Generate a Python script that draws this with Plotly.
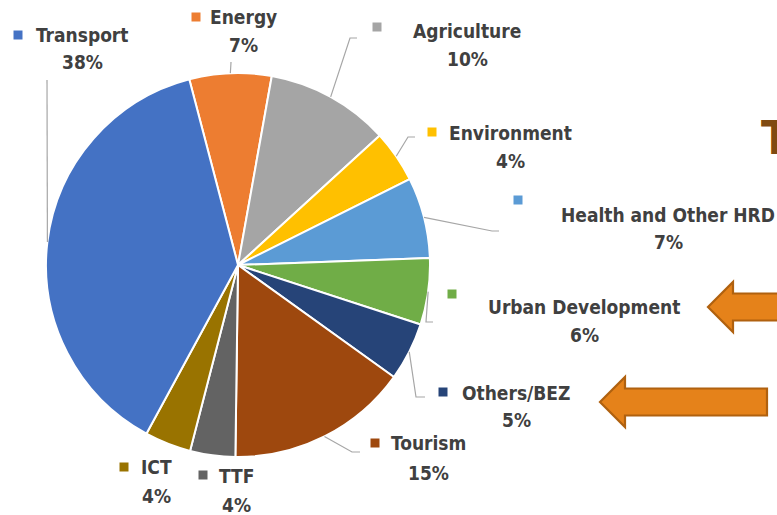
import math
import plotly.graph_objects as go

# ---- data ----
categories = ["Energy", "Agriculture", "Environment", "Health and Other HRD",
              "Urban Development", "Others/BEZ", "Tourism", "TTF", "ICT", "Transport"]
shares = [6.9, 10.4, 4.4, 6.8, 5.6, 4.9, 15.3, 3.8, 3.9, 38.0]
colors = ["#ED7D31", "#A5A5A5", "#FFC000", "#5B9BD5", "#70AD47",
          "#264478", "#9E480E", "#636363", "#997300", "#4472C4"]

W, H = 777, 515
CX, CY, R = 238, 265, 192
ROT = -14.7
FONT = "Liberation Sans Narrow, Arial Narrow, DejaVu Sans Condensed, sans-serif"
TXT = "#404040"

def px(x):
    return x / W

def py(y):
    return 1 - y / H

fig = go.Figure(go.Pie(
    labels=categories, values=shares, sort=False, direction="clockwise",
    rotation=ROT, marker=dict(colors=colors, line=dict(color="white", width=2)),
    textinfo="none", hoverinfo="label+percent", showlegend=False,
    domain=dict(x=[px(CX - R), px(CX + R)], y=[py(CY + R), py(CY - R)]),
))

# label layout: (name center x, name y, marker x, marker y, pct center x, pct y) in pixels
label_pos = {
    "Transport": (82, 35, 18, 35, 82, 62),
    "Energy": (243, 17, 196, 17, 243, 45),
    "Agriculture": (467, 31, 377, 27, 467, 59),
    "Environment": (510, 133, 432, 132, 510, 161),
    "Health and Other HRD": (668, 215, 518, 200, 668, 242),
    "Urban Development": (584, 307, 452, 294, 584, 335),
    "Others/BEZ": (516, 393, 443, 392, 516, 420),
    "Tourism": (428, 443, 375, 443, 428, 473),
    "ICT": (156, 467, 124, 467, 156, 496),
    "TTF": (236, 476, 203, 475, 236, 505),
}
# leader line elbows (pixels): list of points after the slice edge point
leaders = {
    "Transport": [(47, 80)],
    "Energy": [(231, 62)],
    "Agriculture": [(350, 38), (357, 38)],
    "Environment": [(408, 137), (415, 137)],
    "Health and Other HRD": [(492, 231), (499, 231)],
    "Urban Development": [(426, 322), (433, 322)],
    "Others/BEZ": [(416, 397), (425, 397)],
    "Tourism": [(352, 452), (360, 452)],
}

total = sum(shares)
ann = []
shapes = []
angle = ROT
for cat, val, col in zip(categories, shares, colors):
    span = 360 * val / total
    mid = math.radians(angle + span / 2)
    angle += span
    nx, ny, mx, my, pcx, pcy = label_pos[cat]
    pct = f"{round(100 * val / total)}%"
    ann.append(dict(x=px(nx), y=py(ny), xref="paper", yref="paper", text=f"<b>{cat}</b>",
                    showarrow=False, xanchor="center", yanchor="middle",
                    font=dict(family=FONT, size=19, color=TXT)))
    ann.append(dict(x=px(pcx), y=py(pcy), xref="paper", yref="paper", text=f"<b>{pct}</b>",
                    showarrow=False, xanchor="center", yanchor="middle",
                    font=dict(family=FONT, size=19, color=TXT)))
    shapes.append(dict(type="rect", xref="paper", yref="paper",
                       x0=px(mx - 4.5), x1=px(mx + 4.5), y0=py(my + 4.5), y1=py(my - 4.5),
                       fillcolor=col, line=dict(width=0)))
    if cat in leaders:
        sx = CX + R * math.sin(mid)
        sy = CY - R * math.cos(mid)
        pts = [(sx, sy)] + leaders[cat]
        path = "M " + " L ".join(f"{px(a)},{py(b)}" for a, b in pts)
        shapes.append(dict(type="path", xref="paper", yref="paper", path=path,
                           line=dict(color="#A6A6A6", width=1.2)))

# decorative arrows
def arrow(tip_x, tip_y, head_back, head_half, shaft_half, right):
    pts = [(tip_x, tip_y), (head_back, tip_y - head_half), (head_back, tip_y - shaft_half),
           (right, tip_y - shaft_half), (right, tip_y + shaft_half), (head_back, tip_y + shaft_half),
           (head_back, tip_y + head_half)]
    return dict(type="path", xref="paper", yref="paper",
                path="M " + " L ".join(f"{px(a)},{py(b)}" for a, b in pts) + " Z",
                fillcolor="#E5821A", line=dict(color="#B0610F", width=2.2))

shapes.append(arrow(708, 307, 733, 25, 13.5, 800))
shapes.append(arrow(600, 402, 625, 25, 13.5, 767))

ann.append(dict(x=px(759), y=py(138), xref="paper", yref="paper", text="<b>T</b>",
                showarrow=False, xanchor="left", yanchor="middle",
                font=dict(family="Liberation Sans Narrow, DejaVu Sans Condensed, sans-serif",
                          size=46, color="#7F4A12")))

fig.update_layout(width=W, height=H, margin=dict(l=0, r=0, t=0, b=0),
                  paper_bgcolor="white", plot_bgcolor="white",
                  annotations=ann, shapes=shapes)

fig.write_html("out.html", config={"displayModeBar": False},
               post_script="document.body.style.margin='0';document.body.style.overflow='hidden';")
